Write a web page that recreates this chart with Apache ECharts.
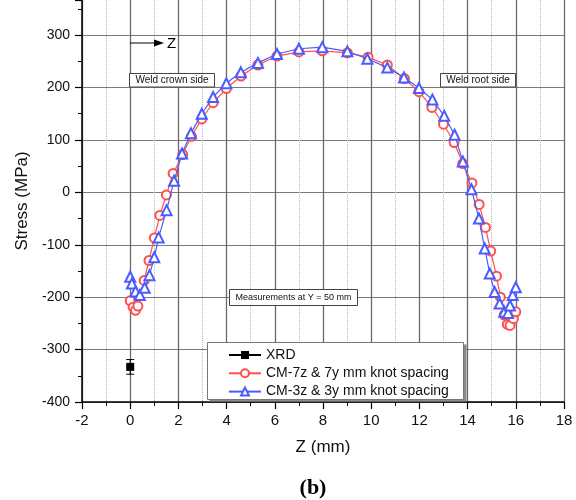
<!DOCTYPE html>
<html><head><meta charset="utf-8">
<script src="https://cdn.jsdelivr.net/npm/echarts@6.0.0/dist/echarts.min.js"></script>
<style>html,body{margin:0;padding:0;background:#fff}#c{width:576px;height:500px}</style>
</head><body><div id="c"></div>
<script>
// ---- data ----
const cm7Z      = [0, 0.12, 0.22, 0.32, 0.58, 0.78, 1.0, 1.23, 1.5, 1.78, 2.18, 2.54, 2.97, 3.44, 3.99, 4.6, 5.3, 6.09, 7.0, 7.97, 9.01, 9.87, 10.67, 11.38, 11.98, 12.52, 13.0, 13.44, 13.8, 14.18, 14.48, 14.74, 14.96, 15.2, 15.36, 15.52, 15.65, 15.76, 15.9, 16.0];
const cm7Stress = [-207, -219, -225, -217, -168, -130, -87, -44, -5, 36, 72, 107, 140, 171, 198, 222, 243, 260, 268, 270, 266, 258, 243, 217, 192, 162, 130, 95, 55, 18, -23, -67, -112, -160, -200, -234, -252, -254, -241, -228];
const cm3Z      = [0, 0.07, 0.22, 0.4, 0.6, 0.8, 1.0, 1.18, 1.51, 1.82, 2.15, 2.52, 2.97, 3.44, 3.99, 4.59, 5.3, 6.09, 7.0, 7.97, 9.01, 9.84, 10.67, 11.36, 11.98, 12.54, 13.03, 13.46, 13.8, 14.16, 14.47, 14.71, 14.92, 15.12, 15.33, 15.52, 15.68, 15.76, 15.87, 16.0];
const cm3Stress = [-161, -174, -189, -196, -182, -158, -124, -86, -34, 22, 74, 113, 150, 182, 208, 229, 247, 264, 274, 277, 269, 255, 238, 219, 199, 177, 146, 110, 59, 6, -50, -107, -155, -190, -212, -228, -230, -216, -196, -181];
const xrdZ      = [0];
const xrdStress = [-333];
const xrdErr    = [14];
const xTickLabels = ['-2','0','2','4','6','8','10','12','14','16','18'];
const yTickLabels = ['-400','-300','-200','-100','0','100','200','300'];
const legendNames = ['XRD', 'CM-7z & 7y mm knot spacing', 'CM-3z & 3y mm knot spacing'];

const zip = (a, b) => a.map((v, i) => [v, b[i]]);
const FONT = 'Liberation Sans';
const RED = '#ff4f4f', BLUE = '#4a5cff';

const chart = echarts.init(document.getElementById('c'), null, {renderer: 'canvas'});
chart.setOption({
  animation: false,
  backgroundColor: '#fff',
  textStyle: {fontFamily: FONT},
  grid: {left: 82, right: 12, top: 0, bottom: 98},
  xAxis: {
    type: 'value', min: -2, max: 18, interval: 2,
    name: 'Z (mm)', nameLocation: 'middle', nameGap: 37,
    nameTextStyle: {fontSize: 17, color: '#111', fontFamily: FONT},
    axisLine: {show: true, onZero: false, lineStyle: {color: '#000', width: 1.5}},
    axisTick: {show: true, inside: false, length: 7, lineStyle: {color: '#000', width: 1.2}},
    minorTick: {show: true, splitNumber: 2, length: 4, lineStyle: {color: '#000', width: 1}},
    axisLabel: {fontSize: 15, color: '#111', margin: 11, fontFamily: FONT,
      formatter: v => xTickLabels.includes(String(v)) ? String(v) : ''},
    splitLine: {show: true, lineStyle: {color: '#6a6a6a', width: 1.3}},
    minorSplitLine: {show: true, lineStyle: {color: '#b8b8b8', width: 1, type: 'dotted'}}
  },
  yAxis: {
    type: 'value', min: -400, max: 367, interval: 100,
    name: 'Stress (MPa)', nameLocation: 'middle', nameGap: 50,
    nameTextStyle: {fontSize: 17, color: '#111', fontFamily: FONT},
    axisLine: {show: true, onZero: false, lineStyle: {color: '#000', width: 1.5}},
    axisTick: {show: true, inside: false, length: 7, lineStyle: {color: '#000', width: 1.2}},
    minorTick: {show: true, splitNumber: 2, length: 4, lineStyle: {color: '#000', width: 1}},
    axisLabel: {fontSize: 14, color: '#111', margin: 12, fontFamily: FONT, showMaxLabel: false,
      formatter: v => yTickLabels.includes(String(v)) ? String(v) : ''},
    splitLine: {show: true, showMaxLine: false, lineStyle: {color: '#7a7a7a', width: 1.2}},
    minorSplitLine: {show: false}
  },
  legend: {
    data: legendNames, orient: 'vertical', left: 228, top: 347,
    itemWidth: 32, itemHeight: 10, itemGap: 2.3, padding: 0, z: 20,
    textStyle: {fontSize: 14, lineHeight: 16, color: '#111', fontFamily: FONT},
    inactiveColor: '#111'
  },
  graphic: [
    // legend box
    {type: 'rect', z: 15, shape: {x: 209.5, y: 344.5, width: 257, height: 57}, style: {fill: '#8a8a8a'}},
    {type: 'rect', z: 16, shape: {x: 207.5, y: 342.5, width: 256, height: 57}, style: {fill: '#fff', stroke: '#777', lineWidth: 1}},
    // annotation: weld crown side
    {type: 'rect', z: 15, shape: {x: 129.5, y: 73.5, width: 85, height: 13.5}, style: {fill: '#fff', stroke: '#444', lineWidth: 1}},
    {type: 'text', z: 16, style: {x: 172, y: 80.5, text: 'Weld crown side', fontSize: 10, fontFamily: FONT, fill: '#111', align: 'center', verticalAlign: 'middle'}},
    // annotation: weld root side
    {type: 'rect', z: 15, shape: {x: 440.5, y: 73.5, width: 75, height: 13.5}, style: {fill: '#fff', stroke: '#444', lineWidth: 1}},
    {type: 'text', z: 16, style: {x: 478, y: 80.5, text: 'Weld root side', fontSize: 10, fontFamily: FONT, fill: '#111', align: 'center', verticalAlign: 'middle'}},
    // annotation: measurements
    {type: 'rect', z: 15, shape: {x: 229.5, y: 289.5, width: 128, height: 16}, style: {fill: '#fff', stroke: '#444', lineWidth: 1}},
    {type: 'text', z: 16, style: {x: 293.5, y: 297.5, text: 'Measurements at Y = 50 mm', fontSize: 9, fontFamily: FONT, fill: '#111', align: 'center', verticalAlign: 'middle'}},
    // arrow -> Z
    {type: 'line', z: 16, shape: {x1: 130, y1: 43, x2: 156, y2: 43}, style: {stroke: '#000', lineWidth: 1}},
    {type: 'polygon', z: 16, shape: {points: [[154, 39.5], [164, 43], [154, 46.5]]}, style: {fill: '#000'}},
    {type: 'text', z: 16, style: {x: 167, y: 44, text: 'Z', fontSize: 15, fontFamily: FONT, fill: '#000', align: 'left', verticalAlign: 'middle'}},
    // (b)
    {type: 'text', z: 16, style: {x: 313, y: 488, text: '(b)', fontSize: 22, fontWeight: 'bold', fontFamily: 'Liberation Serif', fill: '#000', align: 'center', verticalAlign: 'middle'}}
  ],
  series: [
    {
      name: legendNames[0], type: 'line', data: zip(xrdZ, xrdStress),
      symbol: 'rect', symbolSize: 8, itemStyle: {color: '#000'}, lineStyle: {color: '#000', width: 1}, z: 6
    },
    {
      name: 'xrdErr', type: 'custom', z: 5,
      data: xrdZ.map((z, i) => [z, xrdStress[i] - xrdErr[i], xrdStress[i] + xrdErr[i]]),
      renderItem: (params, api) => {
        const lo = api.coord([api.value(0), api.value(1)]);
        const hi = api.coord([api.value(0), api.value(2)]);
        const w = 4;
        return {type: 'group', children: [
          {type: 'line', shape: {x1: lo[0], y1: lo[1], x2: hi[0], y2: hi[1]}, style: {stroke: '#000', lineWidth: 1}},
          {type: 'line', shape: {x1: lo[0] - w, y1: lo[1], x2: lo[0] + w, y2: lo[1]}, style: {stroke: '#000', lineWidth: 1}},
          {type: 'line', shape: {x1: hi[0] - w, y1: hi[1], x2: hi[0] + w, y2: hi[1]}, style: {stroke: '#000', lineWidth: 1}}
        ]};
      }
    },
    {
      name: legendNames[1], type: 'line', data: zip(cm7Z, cm7Stress),
      symbol: 'emptyCircle', symbolSize: 9, showAllSymbol: true,
      itemStyle: {color: RED, borderWidth: 1}, lineStyle: {color: RED, width: 1.2}, z: 3
    },
    {
      name: legendNames[2], type: 'line', data: zip(cm3Z, cm3Stress),
      symbol: 'emptyTriangle', symbolSize: 10, showAllSymbol: true,
      itemStyle: {color: BLUE, borderWidth: 1}, lineStyle: {color: BLUE, width: 1.2}, z: 4
    }
  ]
});
</script>
</body></html>
